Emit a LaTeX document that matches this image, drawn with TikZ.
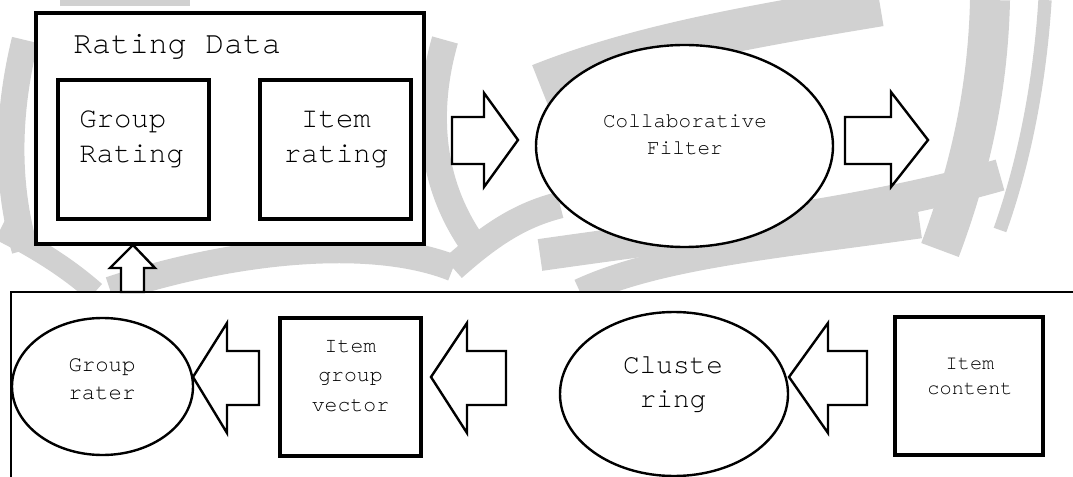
\documentclass[tikz,border=0pt]{standalone}
\usepackage{fontspec}
\setmonofont{TeX Gyre Cursor}
\usetikzlibrary{shapes.geometric}
\begin{document}
\begin{tikzpicture}[x=0.75pt,y=-0.75pt,
  box/.style={draw,fill=white,line width=2.3pt,rectangle,inner sep=0pt},
  oval/.style={draw,fill=white,line width=1.8pt,ellipse,inner sep=0pt},
  blockarrow/.style={draw,fill=white,line width=1.8pt,line join=miter},
  lbl/.style={inner sep=0pt,font=\ttfamily,align=center},
  panel/.style={line width=1.8pt},
  wm/.style={draw=black!18,line cap=butt}]
\useasboundingbox (0,0) rectangle (1073,477);
% faint background watermark
\fill[black!18] (60,0) rectangle (190,6);
\draw[wm,line width=20pt] (25,40) .. controls (8,110) and (5,180) .. (25,250);
\draw[wm,line width=30pt] (990,0) .. controls (988,90) and (970,170) .. (940,250);
\draw[wm,line width=10pt] (1045,0) .. controls (1040,80) and (1025,160) .. (1000,230);
\draw[wm,line width=32pt] (540,85) .. controls (640,45) and (760,25) .. (880,5);
\draw[wm,line width=20pt] (445,40) .. controls (425,110) and (430,180) .. (470,240);
\draw[wm,line width=20pt] (110,290) .. controls (230,250) and (370,235) .. (453,268);
\draw[wm,line width=20pt] (453,268) .. controls (490,235) and (520,215) .. (560,205);
\draw[wm,line width=24pt] (540,255) .. controls (700,232) and (860,215) .. (1000,175);
\draw[wm,line width=20pt] (580,292) .. controls (660,255) and (780,245) .. (920,225);
\draw[wm,line width=16pt] (0,230) .. controls (40,250) and (70,270) .. (95,292);
% top part
\node[box,minimum width=291pt,minimum height=173.25pt] (data) at (230,128.5) {};
\node[box,minimum width=113.25pt,minimum height=104.25pt] (grp) at (133.5,149.5) {};
\node[box,minimum width=113.25pt,minimum height=104.25pt] (itm) at (335.5,149.5) {};
\node[oval,minimum width=222.75pt,minimum height=151.5pt] (cf) at (684.5,146) {};
\node[lbl,anchor=base west,font=\ttfamily\fontsize{23.6}{28}\selectfont] (datat) at (73,54) {Rating Data};
\node[lbl,anchor=base west,align=left,font=\ttfamily\fontsize{21.75}{26.25}\selectfont] (grpt) at (79,163) {Group\\Rating};
\node[lbl,anchor=base,font=\ttfamily\fontsize{21.75}{26.25}\selectfont] (itmt) at (336,163) {Item\\rating};
\node[lbl,anchor=base,font=\ttfamily\fontsize{15.75}{20.25}\selectfont] (cft) at (685,155) {Collaborative\\Filter};
% arrows top
\draw[blockarrow] (452,117) -- (484,117) -- (484,93) -- (518,140) -- (484,187) -- (484,164) -- (452,164) -- cycle;
\draw[blockarrow] (845,117) -- (891,117) -- (891,92) -- (928,140) -- (891,187) -- (891,164) -- (845,164) -- cycle;
% bottom panel
\fill[white] (11,292) rectangle (1073,477);
\coordinate (pr) at (1080,292);
\coordinate (pb) at (11,482);
\draw[panel] (pr) -| (pb);
\draw[blockarrow] (121,292) -- (121,268) -- (110,268) -- (133,245) -- (155,268) -- (144,268) -- (144,292) -- cycle;
\node[oval,minimum width=135.75pt,minimum height=102.75pt] (rater) at (102.5,386.5) {};
\node[box,minimum width=105.75pt,minimum height=103.5pt] (vec) at (350.5,387) {};
\node[oval,minimum width=171pt,minimum height=123pt] (clu) at (674,394) {};
\node[box,minimum width=111pt,minimum height=103.5pt] (cont) at (969,386) {};
\node[lbl,anchor=base,font=\ttfamily\fontsize{16.75}{21}\selectfont] (ratert) at (102,399) {Group\\rater};
\node[lbl,anchor=base,font=\ttfamily\fontsize{16.1}{22}\selectfont] (vect) at (350.5,411) {Item\\group\\vector};
\node[lbl,anchor=base,font=\ttfamily\fontsize{20.8}{25.5}\selectfont] (clut) at (673,407) {Cluste\\ring};
\node[lbl,anchor=base,font=\ttfamily\fontsize{15.2}{18.75}\selectfont] (contt) at (970,394) {Item\\content};
\draw[blockarrow,fill=none] (259,351) -- (227,351) -- (227,323) -- (193,377) -- (227,433) -- (227,405) -- (259,405) -- cycle;
\draw[blockarrow] (506,351) -- (467,351) -- (467,323) -- (431,377) -- (467,433) -- (467,405) -- (506,405) -- cycle;
\draw[blockarrow] (867,351) -- (828,351) -- (828,323) -- (789,377) -- (828,433) -- (828,405) -- (867,405) -- cycle;
\end{tikzpicture}
\end{document}
